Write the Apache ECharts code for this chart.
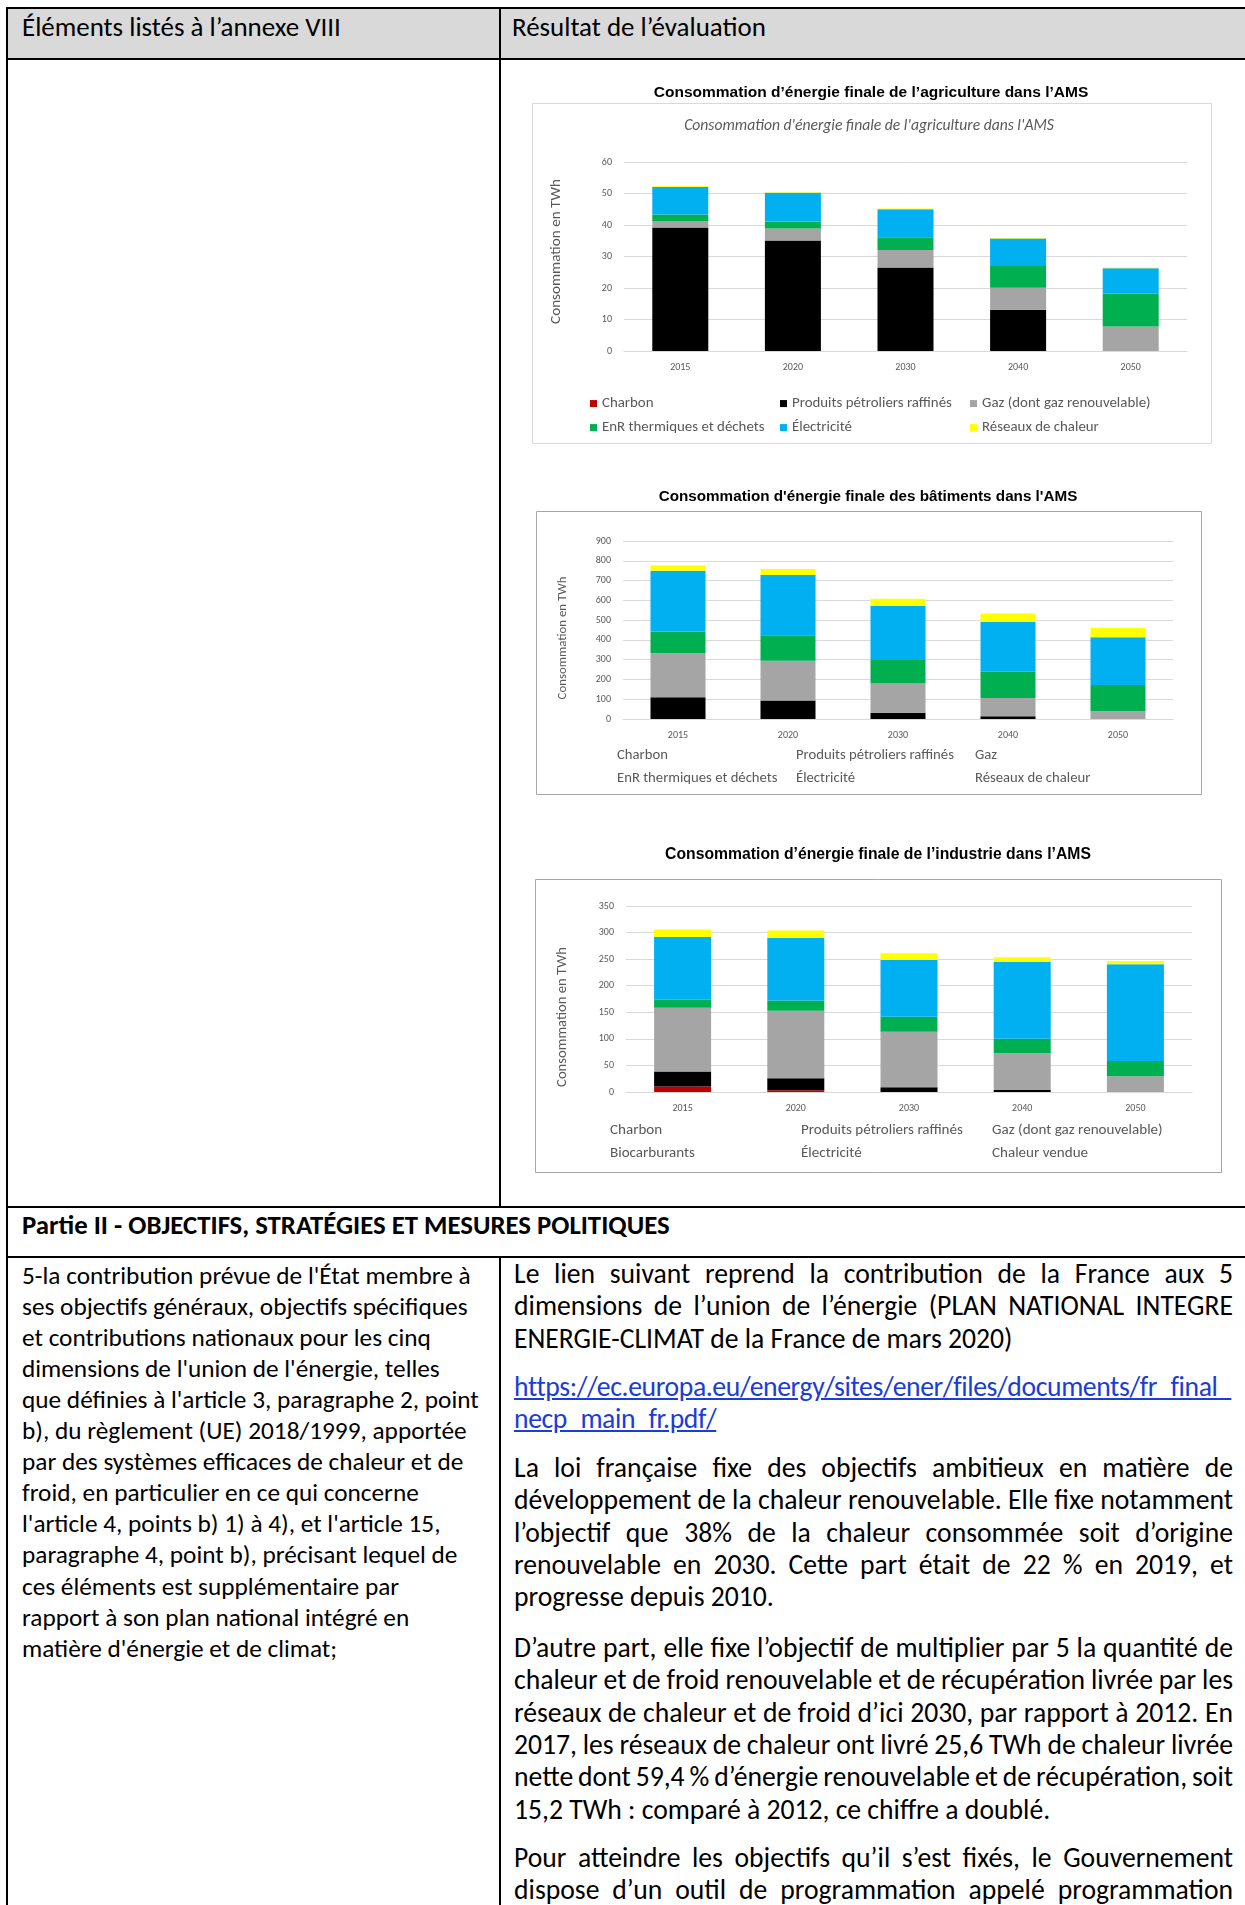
<!DOCTYPE html>
<html><head><meta charset="utf-8">
<script src="https://cdn.jsdelivr.net/npm/echarts@6/dist/echarts.min.js"></script>
<style>
html,body{margin:0;padding:0;background:#fff;}
#page{position:relative;width:1245px;height:1905px;overflow:hidden;font-family:Carlito,Lato,'Open Sans',sans-serif;color:#000;background:#fff;}
.ln{position:absolute;background:#000;}
.t{position:absolute;white-space:nowrap;height:30px;line-height:30px;}
.lc{position:absolute;left:22px;white-space:nowrap;height:31px;line-height:31px;}
.rp{position:absolute;left:514px;width:719px;}
.rp div{height:32.4px;line-height:32.4px;white-space:nowrap;}
a{color:#1a3cd8;text-decoration:underline;}
#chart{position:absolute;left:0;top:0;width:1245px;height:1905px;}
</style></head>
<body>
<div id="page">
  <div style="position:absolute;left:8px;top:8.5px;width:1237px;height:49px;background:#d9d9d9"></div>
  <div class="ln" style="left:6px;top:6.5px;width:1239px;height:2px"></div>
  <div class="ln" style="left:6px;top:57.5px;width:1239px;height:2px"></div>
  <div class="ln" style="left:6px;top:1205.5px;width:1239px;height:2px"></div>
  <div class="ln" style="left:6px;top:1255.5px;width:1239px;height:2px"></div>
  <div class="ln" style="left:6px;top:6.5px;width:2px;height:1899px"></div>
  <div class="ln" style="left:498.5px;top:6.5px;width:2px;height:1200px"></div>
  <div class="ln" style="left:498.5px;top:1256px;width:2px;height:649px"></div>

  <div class="t hd" style="left:22px;top:12px">Éléments listés à l’annexe VIII</div>
  <div class="t hd" style="left:512px;top:12px">Résultat de l’évaluation</div>
  <div class="t pt" style="left:22px;top:1210px;font-weight:bold">Partie II - OBJECTIFS, STRATÉGIES ET MESURES POLITIQUES</div>

  <div id="left"></div>

  <div class="rp" style="top:1257.8px">
    <div class="j">Le lien suivant reprend la contribution de la France aux 5</div>
    <div class="j">dimensions de l’union de l’énergie (PLAN NATIONAL INTEGRE</div>
    <div>ENERGIE-CLIMAT de la France de mars 2020)</div>
  </div>
  <div class="rp" style="top:1370.8px">
    <div><a id="lk" href="#">https://ec.europa.eu/energy/sites/ener/files/documents/fr_final_</a></div>
    <div><a id="lk2" href="#">necp_main_fr.pdf/</a></div>
  </div>
  <div class="rp" style="top:1451.8px">
    <div class="j">La loi française fixe des objectifs ambitieux en matière de</div>
    <div class="j">développement de la chaleur renouvelable. Elle fixe notamment</div>
    <div class="j">l’objectif que 38% de la chaleur consommée soit d’origine</div>
    <div class="j">renouvelable en 2030. Cette part était de 22 % en 2019, et</div>
    <div>progresse depuis 2010.</div>
  </div>
  <div class="rp" style="top:1631.8px">
    <div class="j">D’autre part, elle fixe l’objectif de multiplier par 5 la quantité de</div>
    <div class="j">chaleur et de froid renouvelable et de récupération livrée par les</div>
    <div class="j">réseaux de chaleur et de froid d’ici 2030, par rapport à 2012. En</div>
    <div class="j">2017, les réseaux de chaleur ont livré 25,6 TWh de chaleur livrée</div>
    <div class="j">nette dont 59,4 % d’énergie renouvelable et de récupération, soit</div>
    <div>15,2 TWh : comparé à 2012, ce chiffre a doublé.</div>
  </div>
  <div class="rp" style="top:1841.8px">
    <div class="j">Pour atteindre les objectifs qu’il s’est fixés, le Gouvernement</div>
    <div class="j">dispose d’un outil de programmation appelé programmation</div>
  </div>

  <div id="chart"></div>
</div>
<script>
// ---------- chart data ----------
const years = ['2015', '2020', '2030', '2040', '2050'];

const agriNames = ['Charbon', 'Produits pétroliers raffinés', 'Gaz (dont gaz renouvelable)', 'EnR thermiques et déchets', 'Électricité', 'Réseaux de chaleur'];
const agriCharbon = [0, 0, 0, 0, 0];
const agriPetrole = [39.2, 35.1, 26.5, 13.1, 0];
const agriGaz = [2.1, 3.8, 5.6, 7.0, 7.8];
const agriEnR = [2.0, 2.2, 4.0, 6.9, 10.4];
const agriElec = [8.8, 9.1, 8.9, 8.7, 8.1];
const agriReseaux = [0.2, 0.2, 0.2, 0.2, 0.2];
const agriTicks = [0, 10, 20, 30, 40, 50, 60];

const batNames = ['Charbon', 'Produits pétroliers raffinés', 'Gaz', 'EnR thermiques et déchets', 'Électricité', 'Réseaux de chaleur'];
const batCharbon = [0, 0, 0, 0, 0];
const batPetrole = [110, 93, 32, 14, 0];
const batGaz = [222, 202, 148, 92, 39];
const batEnR = [110, 128, 118, 133, 133];
const batElec = [307, 305, 275, 253, 241];
const batReseaux = [27, 30, 35, 42, 49];
const batTicks = [0, 100, 200, 300, 400, 500, 600, 700, 800, 900];

const indNames = ['Charbon', 'Produits pétroliers raffinés', 'Gaz (dont gaz renouvelable)', 'Biocarburants', 'Électricité', 'Chaleur vendue'];
const indCharbon = [10.5, 3.2, 0, 0, 0];
const indPetrole = [28.2, 22.6, 9, 3.9, 0];
const indGaz = [119.7, 127, 104.5, 69, 29.7];
const indBio = [15.1, 19.4, 28, 27.5, 28.8];
const indElec = [118.3, 117.7, 107.1, 144.3, 181.9];
const indChaleur = [13.8, 13.8, 12.5, 8.8, 6.3];
const indTicks = [0, 50, 100, 150, 200, 250, 300, 350];

const leftLines = [
  "5-la contribution prévue de l'État membre à",
  "ses objectifs généraux, objectifs spécifiques",
  "et contributions nationaux pour les cinq",
  "dimensions de l'union de l'énergie, telles",
  "que définies à l'article 3, paragraphe 2, point",
  "b), du règlement (UE) 2018/1999, apportée",
  "par des systèmes efficaces de chaleur et de",
  "froid, en particulier en ce qui concerne",
  "l'article 4, points b) 1) à 4), et l'article 15,",
  "paragraphe 4, point b), précisant lequel de",
  "ces éléments est supplémentaire par",
  "rapport à son plan national intégré en",
  "matière d'énergie et de climat;"
];

// ---------- text fitting ----------
const FAM = "Carlito, Lato, 'Open Sans', sans-serif";
const NARROW = "'Liberation Sans Narrow', 'Arial Narrow', 'Liberation Sans', Arial, sans-serif";
const mctx = document.createElement('canvas').getContext('2d');
function fitSize(text, target, weight, style, fam) {
  mctx.font = (style || 'normal') + ' ' + (weight || 'normal') + ' 100px ' + (fam || FAM);
  return 100 * target / mctx.measureText(text).width;
}
function textW(text, size, weight) {
  mctx.font = 'normal ' + (weight || 'normal') + ' ' + size + 'px ' + FAM;
  return mctx.measureText(text).width;
}

const hdSize = fitSize('Éléments listés à l’annexe VIII', 319);
document.querySelectorAll('.hd').forEach(e => e.style.fontSize = hdSize + 'px');
const ptSize = fitSize('Partie II - OBJECTIFS, STRATÉGIES ET MESURES POLITIQUES', 648, 'bold');
document.querySelectorAll('.pt').forEach(e => e.style.fontSize = ptSize + 'px');

const leftSize = fitSize("que définies à l'article 3, paragraphe 2, point", 457);
const leftBox = document.getElementById('left');
leftLines.forEach((s, i) => {
  const d = document.createElement('div');
  d.className = 'lc';
  d.textContent = s;
  d.style.top = (1275 + i * 31.1 - 15.5) + 'px';
  d.style.fontSize = leftSize + 'px';
  leftBox.appendChild(d);
});

const rightSize = fitSize('D’autre part, elle fixe l’objectif de multiplier par 5 la quantité de', 712);
document.querySelectorAll('.rp').forEach(e => e.style.fontSize = rightSize + 'px');
document.querySelectorAll('.rp div.j').forEach(d => {
  const txt = d.textContent;
  const w = textW(txt, rightSize);
  const n = (txt.match(/ /g) || []).length;
  if (n > 0) d.style.wordSpacing = ((719 - w) / n) + 'px';
});
// link line: squeeze to the column width
(function () {
  const a = document.getElementById('lk'), b = document.getElementById('lk2');
  const txt = a.textContent;
  const w = textW(txt, rightSize);
  const ls = (716 - w) / txt.length;
  a.style.letterSpacing = ls + 'px';
  b.style.letterSpacing = ls + 'px';
})();

// ---------- chart ----------
const colors = ['#c00000', '#000000', '#a5a5a5', '#00b050', '#00b0f0', '#ffff00'];
const GRAY = '#595959';

const grids = [
  { left: 624, top: 162, width: 563, height: 189 },
  { left: 623, top: 541, width: 550, height: 178 },
  { left: 626, top: 906, width: 566, height: 186 }
];
const tickSets = [agriTicks, batTicks, indTicks];
const barWidths = [56, 55, 57];
const chartSeries = [
  { names: agriNames, data: [agriCharbon, agriPetrole, agriGaz, agriEnR, agriElec, agriReseaux] },
  { names: batNames, data: [batCharbon, batPetrole, batGaz, batEnR, batElec, batReseaux] },
  { names: indNames, data: [indCharbon, indPetrole, indGaz, indBio, indElec, indChaleur] }
];
const yNameW = [145, 123, 140];
const yNameGap = [60, 54, 56];
const yNamePad = [[0, 0, 0, 10], [0, 16, 0, 0], [0, 36, 0, 0]];

const option = {
  backgroundColor: 'transparent',
  animation: false,
  grid: grids.map(g => Object.assign({ containLabel: false, outerBoundsMode: 'none' }, g)),
  xAxis: grids.map((g, i) => ({
    type: 'category', gridIndex: i, data: years,
    axisTick: { show: false },
    axisLine: { show: true, lineStyle: { color: '#d9d9d9', width: 1 } },
    axisLabel: { color: GRAY, fontSize: 10, fontFamily: FAM, margin: 11 },
    splitLine: { show: false }
  })),
  yAxis: grids.map((g, i) => {
    const t = tickSets[i];
    const ns = fitSize('Consommation en TWh', yNameW[i]);
    return {
      type: 'value', gridIndex: i, min: t[0], max: t[t.length - 1], interval: t[1] - t[0],
      axisLine: { show: false }, axisTick: { show: false },
      axisLabel: { color: GRAY, fontSize: 10, fontFamily: FAM, margin: 12 },
      splitLine: { show: true, lineStyle: { color: '#d9d9d9', width: 1 } },
      name: 'Consommation en TWh', nameLocation: 'middle', nameGap: yNameGap[i],
      nameTextStyle: { color: GRAY, fontSize: ns, fontFamily: FAM, padding: yNamePad[i] }
    };
  }),
  series: [],
  legend: [],
  graphic: []
};

chartSeries.forEach((c, i) => {
  c.names.forEach((nm, k) => {
    option.series.push({
      type: 'bar', name: nm, stack: 'stack' + i, xAxisIndex: i, yAxisIndex: i,
      data: c.data[k], barWidth: barWidths[i],
      itemStyle: { color: colors[k] },
      emphasis: { disabled: true }, silent: true
    });
  });
});

// legends
const lg1Size = fitSize('Produits pétroliers raffinés', 160);
const lg2Size = fitSize('Produits pétroliers raffinés', 158);
const lg3Size = fitSize('Produits pétroliers raffinés', 162);
function addLegend(name, x, yc, size, withIcon) {
  option.legend.push({
    data: [name], left: withIcon ? x : x - 5, top: yc - size * 0.6 + 3,
    padding: 0, itemGap: 0, selectedMode: false,
    icon: withIcon ? 'rect' : 'none', itemWidth: withIcon ? 7 : 0, itemHeight: 7,
    textStyle: { color: GRAY, fontSize: size, fontFamily: FAM }
  });
}
const cols1 = [590, 780, 970], rows1 = [402, 426];
agriNames.forEach((nm, k) => addLegend(nm, cols1[k % 3], rows1[Math.floor(k / 3)], lg1Size, true));
const cols2 = [617, 796, 975], rows2 = [754, 777];
batNames.forEach((nm, k) => addLegend(nm, cols2[k % 3], rows2[Math.floor(k / 3)], lg2Size, false));
const cols3 = [610, 801, 992], rows3 = [1129, 1152];
indNames.forEach((nm, k) => addLegend(nm, cols3[k % 3], rows3[Math.floor(k / 3)], lg3Size, false));

// boxes
[[532, 103, 679, 340, '#d9d9d9'], [536, 511, 665, 283, '#a6a6a6'], [535, 879, 686, 293, '#a6a6a6']].forEach(b => {
  option.graphic.push({ type: 'rect', silent: true, z: -1, shape: { x: b[0] + 0.5, y: b[1] + 0.5, width: b[2], height: b[3] },
    style: { fill: '#fff', stroke: b[4], lineWidth: 1 } });
});
// titles
const titles = [
  { text: 'Consommation d’énergie finale de l’agriculture dans l’AMS', x: 871, y: 92.5, w: 435, weight: 'bold', style: 'normal', fam: NARROW, color: '#000' },
  { text: "Consommation d'énergie finale de l'agriculture dans l'AMS", x: 869, y: 126, w: 370, weight: 'normal', style: 'italic', fam: FAM, color: GRAY },
  { text: "Consommation d'énergie finale des bâtiments dans l'AMS", x: 868, y: 496.5, w: 419, weight: 'bold', style: 'normal', fam: NARROW, color: '#000' },
  { text: 'Consommation d’énergie finale de l’industrie dans l’AMS', x: 878, y: 855, w: 426, weight: 'bold', style: 'normal', fam: NARROW, color: '#000' }
];
titles.forEach(t => {
  const fs = fitSize(t.text, t.w, t.weight, t.style, t.fam);
  option.graphic.push({ type: 'text', silent: true, x: t.x, y: t.y,
    style: { text: t.text, fill: t.color, fontSize: fs, fontFamily: t.fam, fontWeight: t.weight, fontStyle: t.style,
      align: 'center', verticalAlign: 'middle', textAlign: 'center', textVerticalAlign: 'middle' } });
});

const chart = echarts.init(document.getElementById('chart'), null, { renderer: 'canvas' });
chart.setOption(option);
</script>
</body></html>
